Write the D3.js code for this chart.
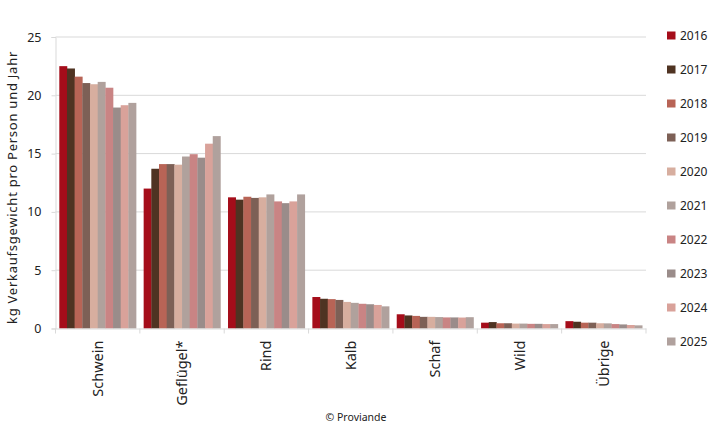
<!DOCTYPE html>
<html><head><meta charset="utf-8">
<script src="https://cdn.jsdelivr.net/npm/d3@7"></script>
<style>body{margin:0;background:#fff;font-family:"Noto Sans",sans-serif;}</style>
</head><body><svg id="c" width="710" height="443"></svg>
<script>
const categories = ["Schwein","Geflügel*","Rind","Kalb","Schaf","Wild","Übrige"];
const years = ["2016","2017","2018","2019","2020","2021","2022","2023","2024","2025"];
const colors = ["#a50d1a","#4f3322","#b86456","#7d6056","#d7ae9f","#b0a19c","#c98484","#9a8c8a","#d9a29a","#b0a19d"];
const v2016 = [22.5,12.0,11.25,2.7,1.22,0.5,0.63];
const v2017 = [22.3,13.7,11.05,2.55,1.12,0.55,0.58];
const v2018 = [21.6,14.1,11.3,2.52,1.08,0.45,0.5];
const v2019 = [21.05,14.1,11.2,2.45,1.0,0.45,0.5];
const v2020 = [20.95,14.05,11.25,2.28,1.0,0.42,0.45];
const v2021 = [21.15,14.75,11.5,2.2,0.98,0.42,0.44];
const v2022 = [20.65,14.95,10.9,2.12,0.95,0.4,0.38];
const v2023 = [18.95,14.65,10.75,2.08,0.95,0.4,0.35];
const v2024 = [19.15,15.85,10.9,2.02,0.94,0.38,0.3];
const v2025 = [19.35,16.5,11.5,1.9,0.97,0.38,0.27];
const series = [v2016,v2017,v2018,v2019,v2020,v2021,v2022,v2023,v2024,v2025];
const yTicks = [0,5,10,15,20,25];

(function(){
const FONT = "Noto Sans";
const TXT = "#222";
const svg = d3.select("#c");
const mLeft = 55.5, mRight = 646, mTop = 37, mBottom = 328.5;
const x0 = d3.scaleBand().domain(categories).range([mLeft, mRight]).paddingInner(0.09).paddingOuter(0.045);
const x1 = d3.scaleBand().domain(years).range([0, x0.bandwidth()]);
const y = d3.scaleLinear().domain([0,25]).range([mBottom, mTop]);
const col = d3.scaleOrdinal().domain(years).range(colors);

svg.append("g").selectAll("line").data(yTicks.filter(t=>t>0)).join("line")
  .attr("x1", mLeft).attr("x2", mRight).attr("y1", d=>y(d)).attr("y2", d=>y(d))
  .attr("stroke","#d9d9d9").attr("stroke-width",1);

const ya = svg.append("g").attr("transform",`translate(${mLeft},0)`)
  .call(d3.axisLeft(y).tickValues(yTicks).tickSize(4).tickPadding(10));
ya.select(".domain").attr("stroke","#d9d9d9");
ya.selectAll(".tick line").attr("stroke","#d9d9d9");
ya.selectAll("text").attr("font-family",FONT).attr("font-size",12.5).attr("fill",TXT);

const groups = svg.append("g").selectAll("g").data(categories).join("g")
  .attr("transform", d=>`translate(${x0(d)},0)`);
groups.selectAll("rect").data((d,i)=>years.map((yr,j)=>({yr, v: series[j][i]}))).join("rect")
  .attr("x", d=>x1(d.yr)).attr("width", x1.bandwidth()+0.3)
  .attr("y", d=>y(d.v)).attr("height", d=>mBottom - y(d.v))
  .attr("fill", d=>col(d.yr));

const xa = svg.append("g").attr("transform",`translate(0,${mBottom})`)
  .call(d3.axisBottom(x0).tickSize(0).tickPadding(10));
xa.select(".domain").attr("stroke","#d9d9d9");
xa.selectAll(".tick text").attr("font-family",FONT).attr("font-size",14.5).attr("fill",TXT)
  .attr("transform","rotate(-90)").attr("text-anchor","end").attr("dy","0.35em").attr("x",-12).attr("y",0);
const bounds = categories.map(c=>x0(c)-x0.step()*x0.paddingInner()/2).concat([mRight]);
svg.append("g").selectAll("line").data(bounds).join("line")
  .attr("x1",d=>d).attr("x2",d=>d).attr("y1",mBottom).attr("y2",mBottom+5)
  .attr("stroke","#d9d9d9");

svg.append("text").attr("transform",`translate(17,187.5) rotate(-90)`)
  .attr("text-anchor","middle").attr("font-family",FONT).attr("font-size",13).attr("letter-spacing",0.75).attr("fill",TXT)
  .text("kg Verkaufsgewicht pro Person und Jahr");

const lg = svg.append("g").selectAll("g").data(years).join("g")
  .attr("transform",(d,i)=>`translate(667,${35.5 + i*34})`);
lg.append("rect").attr("x",0).attr("y",-4).attr("width",8.5).attr("height",8).attr("fill",d=>col(d));
lg.append("text").attr("x",13).attr("y",0).attr("dy","0.35em").attr("font-family",FONT).attr("font-size",12).attr("fill",TXT).text(d=>d);

svg.append("text").attr("x",356).attr("y",421).attr("text-anchor","middle").attr("font-family",FONT).attr("font-size",10.5).attr("fill",TXT).text("© Proviande");
})();
</script></body></html>
